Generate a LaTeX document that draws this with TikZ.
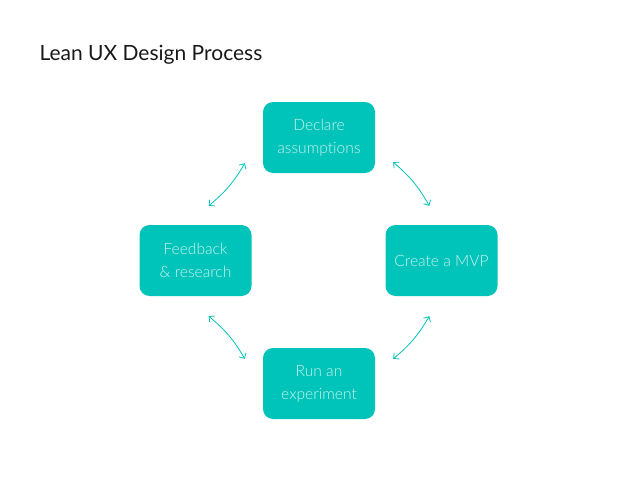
\documentclass[tikz,border=0pt]{standalone}
\usepackage{fontspec}
\setmainfont{Lato}
\newfontfamily\lightfont[RawFeature=-liga]{Lato Light}
\usetikzlibrary{arrows.meta}
\definecolor{leanteal}{HTML}{00C4BA}
\definecolor{leantext}{HTML}{CDF3EF}
\tikzset{
  stage/.style={fill=leanteal, rounded corners=10pt, minimum width=112pt, minimum height=71pt,
    text=leantext, align=center, font=\lightfont\fontsize{15.6}{23}\selectfont, inner sep=0pt},
  link/.style={<->, draw=leanteal, line width=0.8pt, bend left=10}
}
\begin{document}
\begin{tikzpicture}[x=1pt, y=-1pt, line join=round, line cap=round, >={Straight Barb[length=4pt,width=8pt]}]
		\useasboundingbox (0,0) rectangle (638,479);
		\node[anchor=base west, font=\fontsize{21}{25}\selectfont, text=black!90] (title) at (36,60) {Lean UX Design Process};
		\node[stage] (declare) at (319,137.5) {Declare\\assumptions};
		\node[stage] (feedback) at (195.5,260.5) {Feedback\\\& research};
		\node[stage] (mvp) at (441.5,260.5) {Create a MVP};
		\node[stage] (run) at (319,383.5) {Run an\\experiment};
		\draw[link] ([xshift=-18pt,yshift=10pt]declare.south west) to ([xshift=-43pt,yshift=19pt]feedback.north east);
		\draw[link] ([xshift=18pt,yshift=11pt]declare.south east) to ([xshift=44pt,yshift=19pt]mvp.north west);
		\draw[link] ([xshift=-43pt,yshift=-20pt]feedback.south east) to ([xshift=-18pt,yshift=-11pt]run.north west);
		\draw[link] ([xshift=44pt,yshift=-20pt]mvp.south west) to ([xshift=18pt,yshift=-11pt]run.north east);
\end{tikzpicture}
\end{document}
